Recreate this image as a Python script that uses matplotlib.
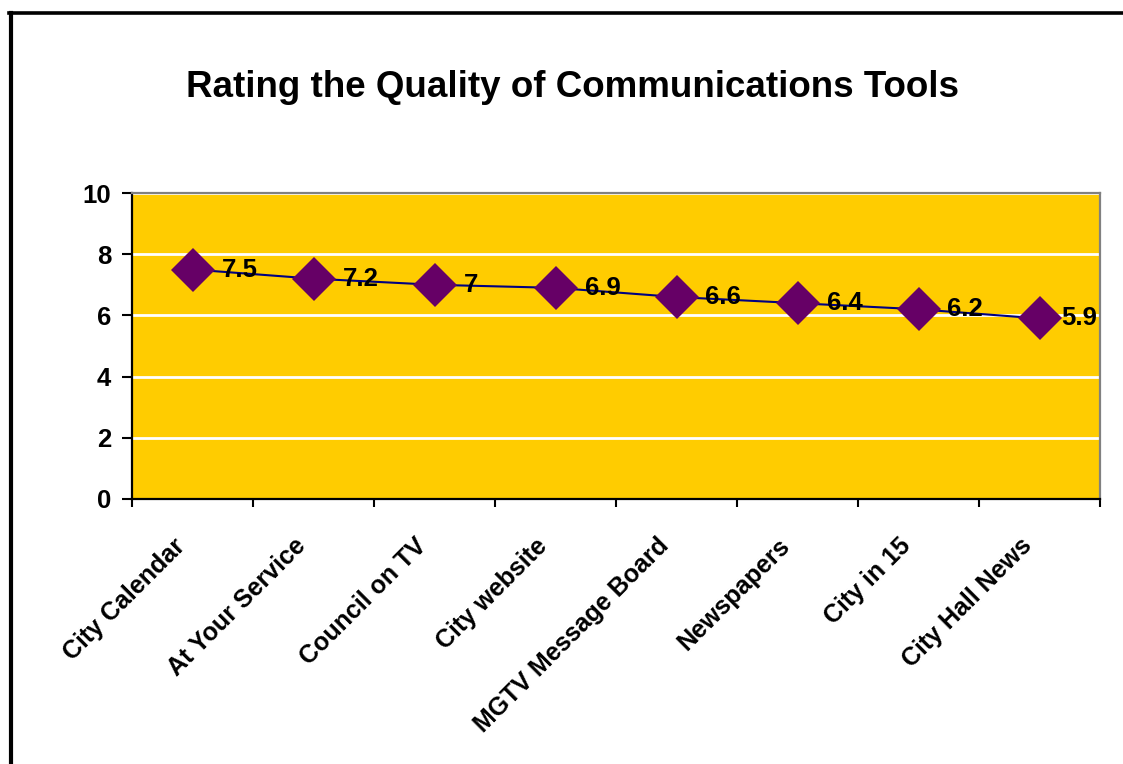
import matplotlib
matplotlib.use("Agg")
import matplotlib.pyplot as plt
from matplotlib.lines import Line2D
from matplotlib.transforms import ScaledTranslation

categories = ["City Calendar", "At Your Service", "Council on TV", "City website",
              "MGTV Message Board", "Newspapers", "City in 15", "City Hall News"]
values = [7.5, 7.2, 7.0, 6.9, 6.6, 6.4, 6.2, 5.9]
value_labels = ["7.5", "7.2", "7", "6.9", "6.6", "6.4", "6.2", "5.9"]
y_ticks = [0, 2, 4, 6, 8, 10]
title = "Rating the Quality of Communications Tools"

plt.rcParams['font.family'] = ['Liberation Sans', 'DejaVu Sans']
plt.rcParams['font.weight'] = 'bold'

W, H = 1123, 764
fig = plt.figure(figsize=(W / 100, H / 100), dpi=100)
fig.patch.set_facecolor('white')

left, right, top, bottom = 132, 1100, 193, 499
ax = fig.add_axes([left / W, 1 - bottom / H, (right - left) / W, (bottom - top) / H])
ax.set_facecolor('#FFCC00')

x = list(range(len(categories)))
ax.plot(x, values, color='#000080', lw=1.5, zorder=3,
        marker='D', markersize=22, markerfacecolor='#660066',
        markeredgecolor='#660066', markeredgewidth=0)

ax.set_xlim(-0.5, len(categories) - 0.5)
ax.set_ylim(0, 10)
ax.set_yticks(y_ticks)
ax.set_yticklabels([str(t) for t in y_ticks], fontsize=18.5, fontweight='bold')
ax.yaxis.grid(True, color='white', lw=2)
ax.set_axisbelow(True)

ax.set_xticks([i - 0.5 for i in range(len(categories) + 1)], minor=False)
ax.set_xticklabels([])
ax.set_xticks(x, minor=True)
ax.set_xticklabels(categories, minor=True, fontsize=18, fontweight='bold',
                   rotation=45, ha='right', rotation_mode='anchor')
ax.tick_params(axis='x', which='minor', length=0, pad=25)
ax.tick_params(axis='x', which='major', length=6, width=1.5, direction='out')
ax.tick_params(axis='y', length=7, width=1.5, direction='out', pad=8)
lab_off = ScaledTranslation(-20 / 100, 0, fig.dpi_scale_trans)
for lbl in ax.get_xticklabels(minor=True):
    lbl.set_transform(lbl.get_transform() + lab_off)

for s in ['left', 'bottom']:
    ax.spines[s].set_color('black')
    ax.spines[s].set_linewidth(1.6)
for s in ['top', 'right']:
    ax.spines[s].set_color('#808080')
    ax.spines[s].set_linewidth(1.6)

# data labels, kept inside the plot area like the original
off = ScaledTranslation(29 / 100, 0, fig.dpi_scale_trans)
fig.canvas.draw()
renderer = fig.canvas.get_renderer()
ax_right_px = ax.transAxes.transform((1, 0))[0]
for xi, v, lab in zip(x, values, value_labels):
    t = ax.text(xi, v, lab, transform=ax.transData + off, ha='left', va='center',
                fontsize=18.5, fontweight='bold', color='black', zorder=4)
    bb = t.get_window_extent(renderer=renderer)
    if bb.x1 > ax_right_px - 3:
        shift = (bb.x1 - (ax_right_px - 3)) / 100
        t.set_transform(ax.transData + off +
                        ScaledTranslation(-shift, 0, fig.dpi_scale_trans))

fig.text(572 / W, 1 - 97 / H, title, ha='center', va='baseline',
         fontsize=26.5, fontweight='bold', color='black')

# outer frame (partially visible)
fig.add_artist(Line2D([10.5 / W, 10.5 / W], [0, 1 - 13 / H], color='black', lw=3,
                      transform=fig.transFigure))
fig.add_artist(Line2D([9 / W, 1], [1 - 13.3 / H, 1 - 13.3 / H], color='black', lw=2.6,
                      transform=fig.transFigure))

fig.savefig('out.png', dpi=100)
